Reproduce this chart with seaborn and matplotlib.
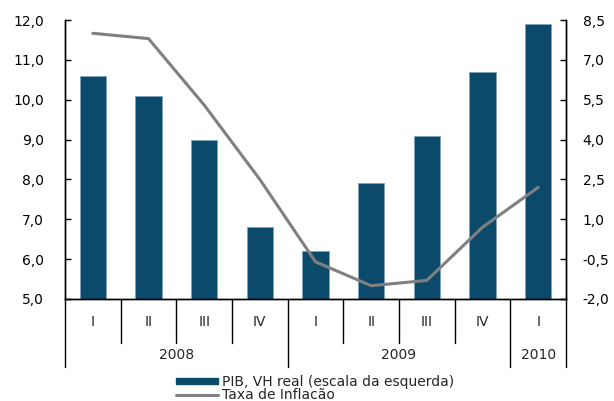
import matplotlib
matplotlib.use('Agg')
import matplotlib.pyplot as plt
import matplotlib.ticker as mticker
from matplotlib.patches import Patch
from matplotlib.lines import Line2D
import pandas as pd
import seaborn as sns

quarters = ['I', 'II', 'III', 'IV', 'I', 'II', 'III', 'IV', 'I']
years = ['2008', '2008', '2008', '2008', '2009', '2009', '2009', '2009', '2010']
pib = [10.6, 10.1, 9.0, 6.8, 6.2, 7.9, 9.1, 10.7, 11.9]
inflacao = [8.0, 7.8, 5.3, 2.5, -0.6, -1.5, -1.3, 0.7, 2.2]

df = pd.DataFrame({'pos': range(len(pib)), 'quarter': quarters, 'year': years,
                   'pib': pib, 'inflacao': inflacao})

sns.set_style('white')
plt.rcParams['font.family'] = ['DejaVu Sans']
plt.rcParams['font.size'] = 10

bar_color = '#0b4a6b'
line_color = '#808080'

fig = plt.figure(figsize=(6.14, 4.01), dpi=100)
ax = fig.add_axes([65 / 614, 1 - 299 / 401, (566 - 65) / 614, 279 / 401])

sns.barplot(data=df, x='pos', y='pib', color=bar_color, width=0.47,
            edgecolor='#7fa3bd', linewidth=0.6, saturation=1, ax=ax)
ax.set_ylim(5, 12)
ax.set_yticks(range(5, 13))
ax.yaxis.set_major_formatter(mticker.FuncFormatter(lambda v, p: f'{v:.1f}'.replace('.', ',')))
ax.set_xlim(-0.5, len(pib) - 0.5)
ax.set_xticks([])
ax.set_xlabel('')
ax.set_ylabel('')

ax2 = ax.twinx()
sns.lineplot(x=df['pos'], y=df['inflacao'], color=line_color, linewidth=2.2, ax=ax2)
ax2.set_ylim(-2, 8.5)
ax2.set_yticks([-2, -0.5, 1, 2.5, 4, 5.5, 7, 8.5])
ax2.yaxis.set_major_formatter(mticker.FuncFormatter(lambda v, p: f'{v:.1f}'.replace('.', ',')))
ax2.set_xlim(-0.5, len(pib) - 0.5)
ax2.set_ylabel('')
ax2.set_xlabel('')

for a in (ax, ax2):
    for s in a.spines.values():
        s.set_color('black')
        s.set_linewidth(1.0)
    a.spines['top'].set_visible(False)
    a.tick_params(axis='y', direction='in', length=4, width=1, colors='black', labelsize=10)
ax.tick_params(axis='y', left=True, right=False, pad=15)
ax2.tick_params(axis='y', right=True, left=False, pad=12)

# category table below axis
n = len(pib)
tr = ax.get_xaxis_transform()
for i in range(n + 1):
    x = i - 0.5
    if i == 0 or i == n or years[i] != years[i - 1]:
        y0 = -0.245
    else:
        y0 = -0.158
    ax.plot([x, x], [0, y0], transform=tr, color='black', lw=1.0, clip_on=False)
for i, q in enumerate(quarters):
    ax.text(i, -0.082, q, transform=tr, ha='center', va='center', fontsize=10)
for yr in dict.fromkeys(years):
    idx = [i for i, y in enumerate(years) if y == yr]
    ax.text((idx[0] + idx[-1]) / 2, -0.2, yr, transform=tr, ha='center', va='center', fontsize=10)

handles = [Patch(facecolor=bar_color, edgecolor=bar_color),
           Line2D([], [], color=line_color, lw=2.2)]
labels = ['PIB, VH real (escala da esquerda)', 'Taxa de Inflacão']
fig.legend(handles, labels, loc='upper left', bbox_to_anchor=(176 / 614, 1 - 375 / 401),
           frameon=False, fontsize=10, handlelength=3.0, handleheight=0.35,
           labelspacing=-0.05, handletextpad=0.3, borderpad=0.0, borderaxespad=0.0)

fig.savefig('out.png', dpi=100)
